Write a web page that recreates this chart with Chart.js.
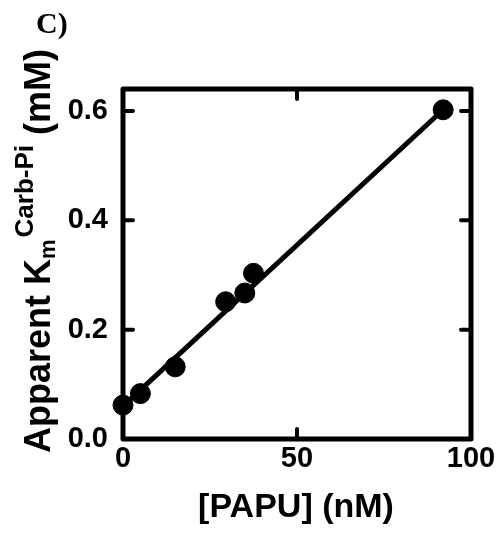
<!DOCTYPE html>
<html>
<head>
<meta charset="utf-8">
<script src="https://cdn.jsdelivr.net/npm/chart.js@4/dist/chart.umd.min.js"></script>
<style>
  html, body { margin: 0; padding: 0; background: #fff; }
  canvas { display: block; }
</style>
</head>
<body>
<canvas id="chart" width="501" height="535"></canvas>
<script>
// measured points: [PAPU] (nM) vs apparent Km (mM)
const papu = [0, 5, 15, 29.5, 35, 37.5, 92];
const kmApp = [0.062, 0.083, 0.132, 0.251, 0.267, 0.303, 0.602];
// fitted line ends
const fitX = [0, 92];
const fitY = [0.06, 0.602];
const xTicks = [0, 50, 100];
const yTicks = [0, 0.2, 0.4, 0.6];
const xInner = [50];
const yInner = [0.2, 0.4, 0.6];

const SANS = '"Liberation Sans", Arial, sans-serif';

// frame, inward ticks and titles
const framePlugin = {
    id: 'frame',
    afterDatasetsDraw(chart) {
        const { ctx, chartArea: a, scales: { x, y } } = chart;
        ctx.save();
        ctx.strokeStyle = '#000';
        ctx.lineJoin = 'round';
        ctx.lineWidth = 5;
        ctx.strokeRect(a.left, a.top, a.right - a.left, a.bottom - a.top);

        ctx.lineWidth = 4;
        ctx.lineCap = 'round';
        const len = 10;
        yInner.forEach(v => {
            const py = y.getPixelForValue(v);
            ctx.beginPath();
            ctx.moveTo(a.left, py); ctx.lineTo(a.left + len, py);
            ctx.moveTo(a.right, py); ctx.lineTo(a.right - len, py);
            ctx.stroke();
        });
        xInner.forEach(v => {
            const px = x.getPixelForValue(v);
            ctx.beginPath();
            ctx.moveTo(px, a.bottom); ctx.lineTo(px, a.bottom - len);
            ctx.moveTo(px, a.top); ctx.lineTo(px, a.top + len);
            ctx.stroke();
        });
        ctx.restore();
    },
    afterDraw(chart) {
        const ctx = chart.ctx;
        ctx.save();
        ctx.fillStyle = '#000';
        ctx.textBaseline = 'alphabetic';

        // panel letter
        ctx.font = 'bold 30px "Liberation Serif", "Times New Roman", serif';
        ctx.textAlign = 'left';
        ctx.fillText('C)', 36, 33);

        // x title
        ctx.font = 'bold 34px ' + SANS;
        ctx.textAlign = 'center';
        ctx.fillText('[PAPU] (nM)', 296, 517);

        // y title with sub/superscript, rotated
        ctx.translate(50, 453);
        ctx.rotate(-Math.PI / 2);
        ctx.textAlign = 'left';
        let u = 0;
        ctx.font = 'bold 36px ' + SANS;
        ctx.fillText('Apparent K', u, 0);
        u += ctx.measureText('Apparent K').width;
        ctx.font = 'bold 22px ' + SANS;
        ctx.fillText('m', u, 5);
        u += ctx.measureText('m').width + 2;
        ctx.font = 'bold 26px ' + SANS;
        ctx.fillText('Carb-Pi', u, -17);
        u += ctx.measureText('Carb-Pi').width;
        ctx.font = 'bold 36px ' + SANS;
        ctx.fillText(' (mM)', u, 0);
        ctx.restore();
    }
};

new Chart(document.getElementById('chart'), {
    type: 'scatter',
    data: {
        datasets: [
            {
                data: papu.map((v, i) => ({ x: v, y: kmApp[i] })),
                backgroundColor: '#000',
                borderColor: '#000',
                pointRadius: 10,
                pointHoverRadius: 10,
                clip: false,
                order: 1
            },
            {
                data: fitX.map((v, i) => ({ x: v, y: fitY[i] })),
                showLine: true,
                borderColor: '#000',
                borderWidth: 5,
                pointRadius: 0,
                clip: false,
                order: 2
            }
        ]
    },
    options: {
        responsive: false,
        animation: false,
        events: [],
        layout: { padding: { left: 0, right: 30, top: 89, bottom: 0 } },
        plugins: { legend: { display: false }, tooltip: { enabled: false } },
        scales: {
            x: {
                type: 'linear',
                min: 0, max: 100,
                grid: { display: false, drawTicks: false },
                border: { display: false },
                afterBuildTicks: s => { s.ticks = xTicks.map(v => ({ value: v })); },
                afterFit: s => { s.height = 96; },
                ticks: {
                    color: '#000',
                    padding: 3,
                    maxRotation: 0,
                    font: { family: SANS, size: 29, weight: 'bold' },
                    callback: v => String(v)
                }
            },
            y: {
                min: 0, max: 0.64,
                grid: { display: false, drawTicks: false },
                border: { display: false },
                afterBuildTicks: s => { s.ticks = yTicks.map(v => ({ value: v })); },
                afterFit: s => { s.width = 123; },
                ticks: {
                    color: '#000',
                    padding: 15,
                    font: { family: SANS, size: 29, weight: 'bold' },
                    callback: v => v.toFixed(1)
                }
            }
        }
    },
    plugins: [framePlugin]
});
</script>
</body>
</html>
